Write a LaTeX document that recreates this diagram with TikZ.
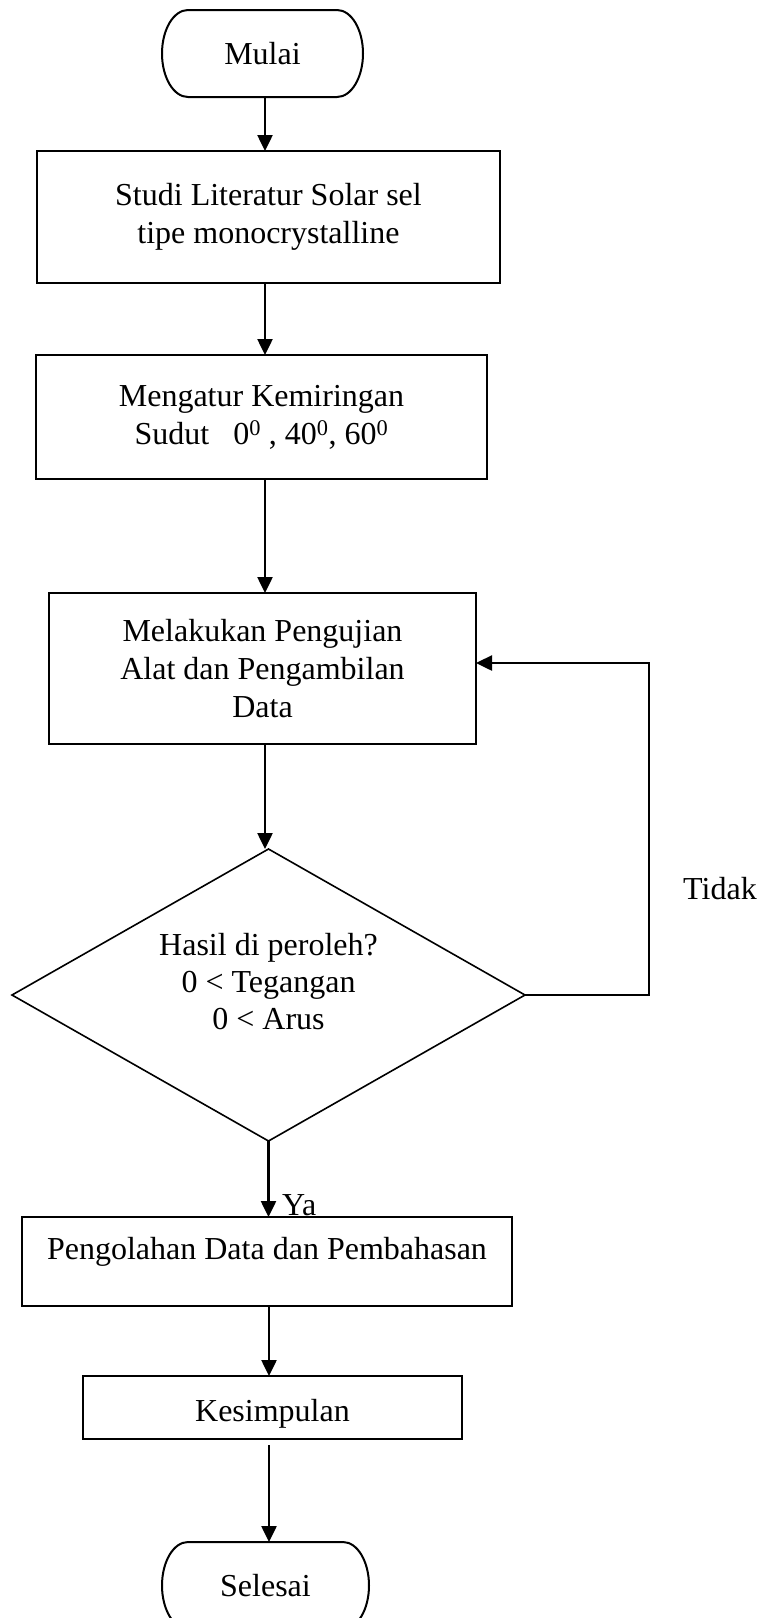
\documentclass[tikz,border=0pt]{standalone}
\usepackage{fontspec}
\setmainfont{Liberation Serif}
\usetikzlibrary{shapes.geometric,arrows.meta}
\tikzset{%
  terminal/.style  = {shape=rectangle, align=center, outer sep=0pt},%
  proses/.style    = {shape=rectangle, draw, line width=2.2pt, align=center, outer sep=0pt},%
  keputusan/.style = {shape=diamond, draw, line width=1.6pt, inner sep=0pt, outer sep=0pt},%
  panah/.style     = {-{Triangle[length=16pt,width=15pt]}, line width=2.5pt}%
}
% garis tepi berbentuk kapsul untuk node terminal
\newcommand{\kapsul}[1]{%
  \draw [line width=2pt] ([xshift=26pt]#1.north west) -- ([xshift=-26pt]#1.north east)%
    arc [start angle=90, end angle=-90, x radius=26pt, y radius=43.5pt]%
    -- ([xshift=26pt]#1.south west)%
    arc [start angle=270, end angle=90, x radius=26pt, y radius=43.5pt] -- cycle;}

\begin{document}
\begin{tikzpicture}[x=1pt, y=-1pt, every node/.style = {font=\fontsize{32}{38}\selectfont}]%
	\useasboundingbox (0,0) rectangle (762,1618);%
	\coordinate (alur) at (265,0);%
	\coordinate (alurbawah) at (269,0);%
	\coordinate (balik) at (649,663);%
		\node [terminal, minimum width=201pt, minimum height=87pt] (mulai) at (262.5,53.5) {Mulai};%
		\node [proses, minimum width=463pt, minimum height=132pt] (studi) at (268.5,217)%
			{Studi Literatur Solar sel\\tipe monocrystalline};%
		\node [proses, minimum width=451pt, minimum height=124pt] (atur) at (261.5,417)%
			{Mengatur Kemiringan\\Sudut\ \ \ 0\textsuperscript{0} , 40\textsuperscript{0}, 60\textsuperscript{0}};%
		\node [proses, minimum width=427pt, minimum height=151pt] (uji) at (262.5,668.5)%
			{Melakukan Pengujian\\Alat dan Pengambilan\\Data};%
		\node [keputusan, minimum width=513pt, minimum height=292pt] (cek) at (268.5,995) {};%
		\node [align=center, font=\fontsize{32}{37}\selectfont] (cektxt) at (268.5,982)%
			{Hasil di peroleh?\\0 < Tegangan\\0 < Arus};%
		\node [proses, minimum width=490pt, minimum height=89pt, text depth=27pt] (olah) at (267,1261.5)%
			{Pengolahan Data dan Pembahasan};%
		\node [proses, minimum width=379pt, minimum height=63pt, text height=34pt] (simpul) at (272.5,1407.5)%
			{Kesimpulan};%
		\node [terminal, minimum width=207pt, minimum height=87pt] (selesai) at (265.5,1585.5) {Selesai};%
		\node [inner sep=0pt] (tidak) at (720,889) {Tidak};%
		\node [inner sep=0pt, anchor=base west] (ya) at (282,1215) {Ya};%
	\kapsul{mulai}%
	\kapsul{selesai}%
	% alur utama
	\draw [panah] (mulai.south -| alur) -- (studi.north -| alur);%
	\draw [panah] (studi.south -| alur) -- (atur.north -| alur);%
	\draw [panah] (atur.south -| alur) -- (uji.north -| alur);%
	\draw [panah] (uji.south -| alur) -- (cek.north -| alur);%
	\draw [panah] (cek.south) -- (olah.north -| cek.south);%
	\draw [panah] (olah.south -| alurbawah) -- (simpul.north -| alurbawah);%
	\draw [panah, shorten <=6pt] (simpul.south -| alurbawah) -- (selesai.north -| alurbawah);%
	% kembali jika tidak
	\draw [panah] (cek.east) -| (balik) -- (uji.east |- balik);%
\end{tikzpicture}
\end{document}
